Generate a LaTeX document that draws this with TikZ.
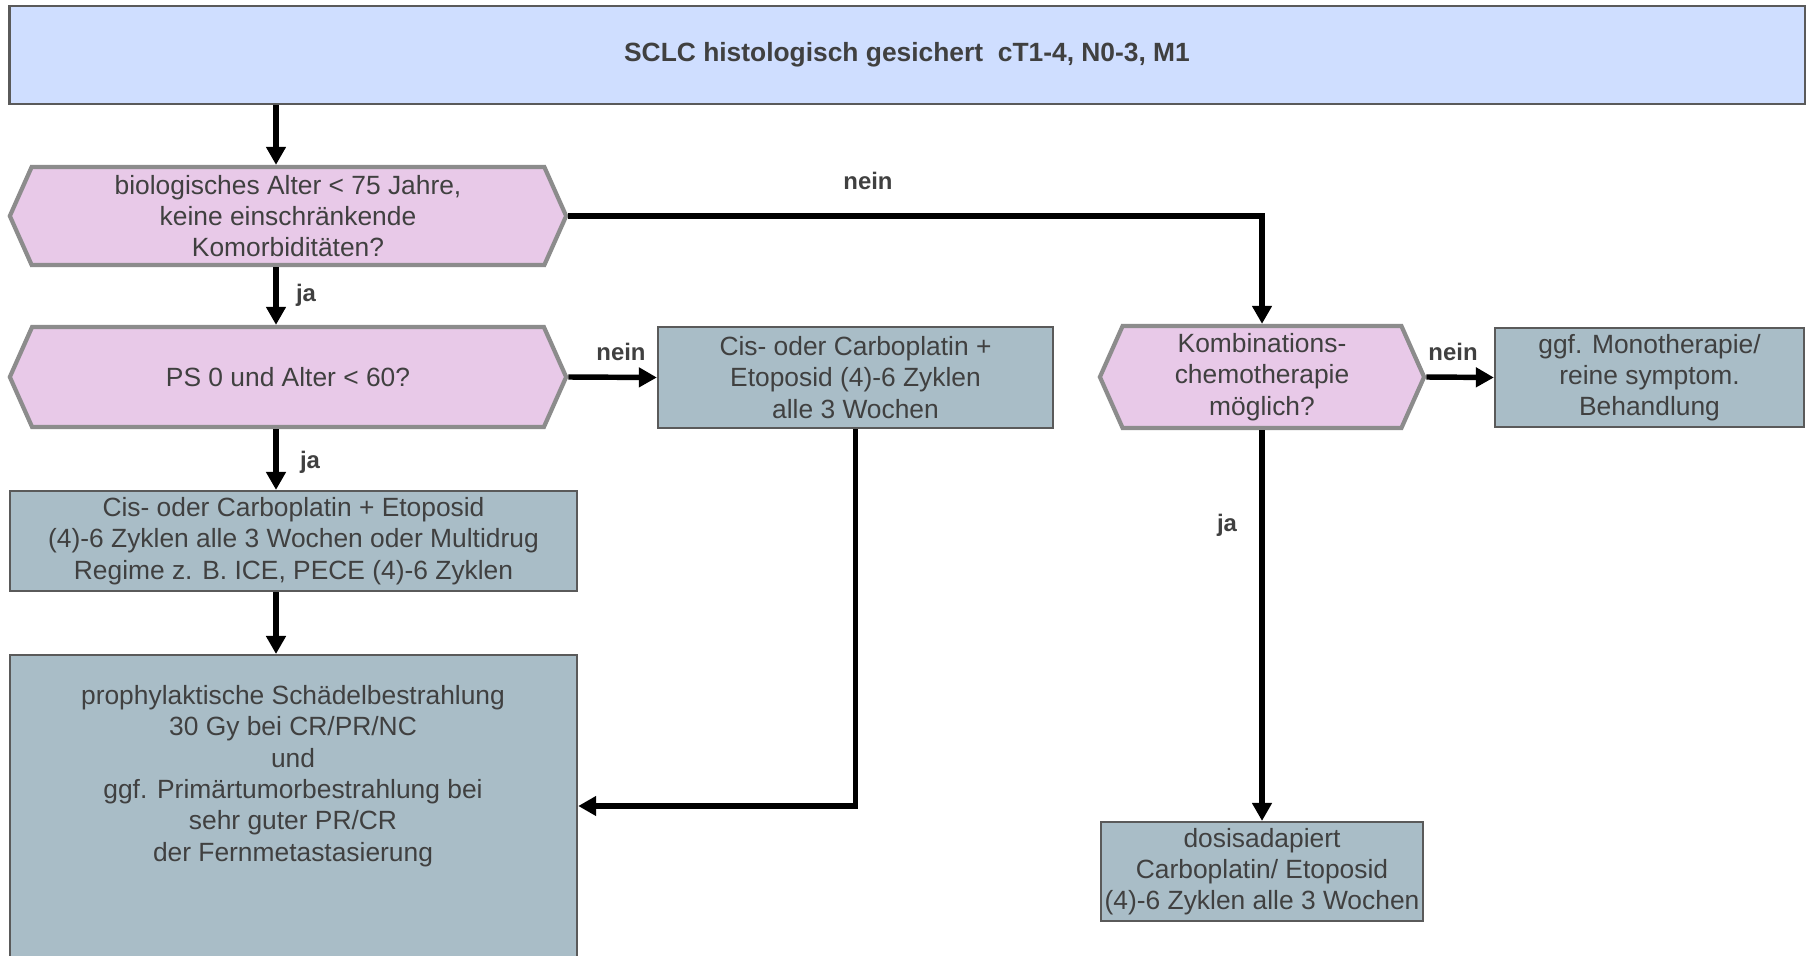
\documentclass[tikz,border=0pt]{standalone}
\usepackage{fontspec}
\setmainfont{Liberation Sans}
\usepackage{tikz}
\usetikzlibrary{shapes.symbols,arrows.meta,positioning,calc}
\definecolor{headblue}{RGB}{207,222,255}
\definecolor{askpink}{RGB}{232,201,232}
\definecolor{therapy}{RGB}{169,189,199}
\definecolor{inktext}{RGB}{64,64,64}
\definecolor{hexline}{RGB}{140,140,140}
\definecolor{boxline}{RGB}{90,90,90}

\begin{document}
\begin{tikzpicture}[x=0.01cm, y=-0.01cm,
  txt/.style={font=\fontsize{7.5}{8.9}\selectfont, text=inktext, align=center},
  head/.style={txt, font=\fontsize{7.5}{8.9}\selectfont\bfseries, fill=headblue, draw=boxline, line width=0.6pt, inner sep=0pt, minimum width=17.94cm, minimum height=0.98cm},
  ask/.style={txt, signal, signal to=west and east, signal pointer angle=132, fill=askpink, draw=hexline, line width=1.2pt, inner sep=0pt},
  therapybox/.style={txt, fill=therapy, draw=boxline, line width=0.6pt, inner sep=0pt},
  flow/.style={line width=1.55pt, -{Triangle[length=1.8mm,width=1.9mm]}},
  answer/.style={font=\fontsize{6.8}{8}\selectfont\bfseries, text=inktext}]
\useasboundingbox[fill=white] (0,0) rectangle (1810,955);

% Kopf und Entscheidungen
\node[head] (sclc) at (907,55) {SCLC histologisch gesichert\ \ cT1-4, N0-3, M1};
\node[ask, minimum width=5.56cm, minimum height=0.98cm] (alter) at (288,216) {biologisches Alter < 75 Jahre,\\keine einschränkende\\Komorbiditäten?};
\node[ask, minimum width=5.56cm, minimum height=1.0cm] (ps) at (288,377) {PS 0 und Alter < 60?};
\node[ask, minimum width=3.24cm, minimum height=1.02cm] (kombi) at (1262,377) {Kombinations-\\chemotherapie\\möglich?};

% Therapien
\node[therapybox, minimum width=5.67cm, minimum height=1.0cm] (multi) at (293.5,541) {Cis- oder Carboplatin + Etoposid\\(4)-6 Zyklen alle 3 Wochen oder Multidrug\\Regime z. B. ICE, PECE (4)-6 Zyklen};
\node[therapybox, minimum width=5.67cm, minimum height=3.5cm, anchor=north] (pci) at (293.5,654) {};
\node[txt] (pcitext) at (293,776) {prophylaktische Schädelbestrahlung\\30 Gy bei CR/PR/NC\\und\\ggf. Primärtumorbestrahlung bei\\sehr guter PR/CR\\der Fernmetastasierung};
\node[therapybox, minimum width=3.95cm, minimum height=1.01cm] (cisplat) at (855.5,377.5) {Cis- oder Carboplatin +\\Etoposid (4)-6 Zyklen\\alle 3 Wochen};
\node[therapybox, minimum width=3.09cm, minimum height=0.99cm] (mono) at (1649.5,377.5) {ggf. Monotherapie/\\reine symptom.\\Behandlung};
\node[therapybox, minimum width=3.22cm, minimum height=0.99cm] (dosis) at (1262,871.5) {dosisadapiert\\Carboplatin/ Etoposid\\(4)-6 Zyklen alle 3 Wochen};

% Pfeile
\coordinate (spine) at (276,0);
\draw[flow] (sclc.south -| spine) -- (alter.north -| spine);
\draw[flow] (alter.south -| spine) -- (ps.north -| spine);
\draw[flow] (ps.south -| spine) -- (multi.north -| spine);
\draw[flow] (multi.south -| spine) -- (pci.north -| spine);
\draw[flow] (alter.east) -| (kombi.north);
\draw[flow] (ps.east) -- (cisplat.west);
\draw[flow] (kombi.east) -- (mono.west);
\draw[flow] (kombi.south) -- (dosis.north);
\draw[flow] (cisplat.south) |- (pci.east |- 0,806);

\node[answer] (nein1) at (868,181) {nein};
\node[answer] (ja1) at (306,295) {ja};
\node[answer] (nein2) at (621,352) {nein};
\node[answer] (ja2) at (310,462) {ja};
\node[answer] (nein3) at (1453,352) {nein};
\node[answer] (ja3) at (1227,525) {ja};
\end{tikzpicture}
\end{document}
